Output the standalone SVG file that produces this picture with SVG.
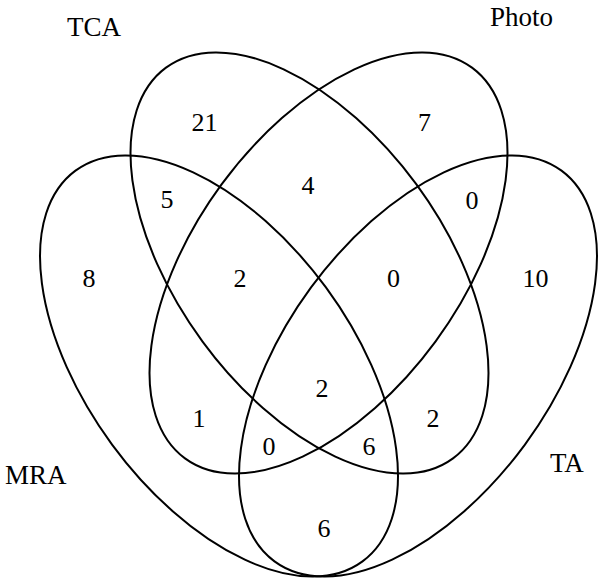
<svg xmlns="http://www.w3.org/2000/svg" width="600" height="582" viewBox="0 0 600 582">
<style>
.set{fill:none;stroke:#000;stroke-width:2}
text{font-family:"Liberation Serif","Times New Roman",serif;font-size:26px;fill:#000}
.lbl{font-size:27px}
.n{text-anchor:middle}
</style>
<rect width="600" height="582" fill="#fff"/>
<g id="MRA">
<ellipse class="set" cx="219" cy="366" rx="242.4" ry="132.7" transform="rotate(53.7 219 366)"/>
<text class="lbl" x="5" y="484">MRA</text>
</g>
<g id="TCA">
<ellipse class="set" cx="309.5" cy="263" rx="242.4" ry="132.7" transform="rotate(53.7 309.5 263)"/>
<text class="lbl" x="67" y="36">TCA</text>
</g>
<g id="Photo">
<ellipse class="set" cx="328.5" cy="263" rx="242.4" ry="132.7" transform="rotate(-53.7 328.5 263)"/>
<text class="lbl" x="490" y="26">Photo</text>
</g>
<g id="TA">
<ellipse class="set" cx="418" cy="366" rx="242.4" ry="132.7" transform="rotate(-53.7 418 366)"/>
<text class="lbl" x="550" y="472">TA</text>
</g>
<g id="counts">
<text class="n" x="204.5" y="131">21</text>
<text class="n" x="424.5" y="131">7</text>
<text class="n" x="308" y="194">4</text>
<text class="n" x="167" y="208">5</text>
<text class="n" x="472" y="209">0</text>
<text class="n" x="89" y="287">8</text>
<text class="n" x="240" y="287">2</text>
<text class="n" x="393.5" y="287">0</text>
<text class="n" x="535.5" y="287">10</text>
<text class="n" x="322" y="397">2</text>
<text class="n" x="199" y="427">1</text>
<text class="n" x="433" y="427">2</text>
<text class="n" x="269" y="455">0</text>
<text class="n" x="369" y="455">6</text>
<text class="n" x="324" y="537">6</text>
</g>
</svg>
